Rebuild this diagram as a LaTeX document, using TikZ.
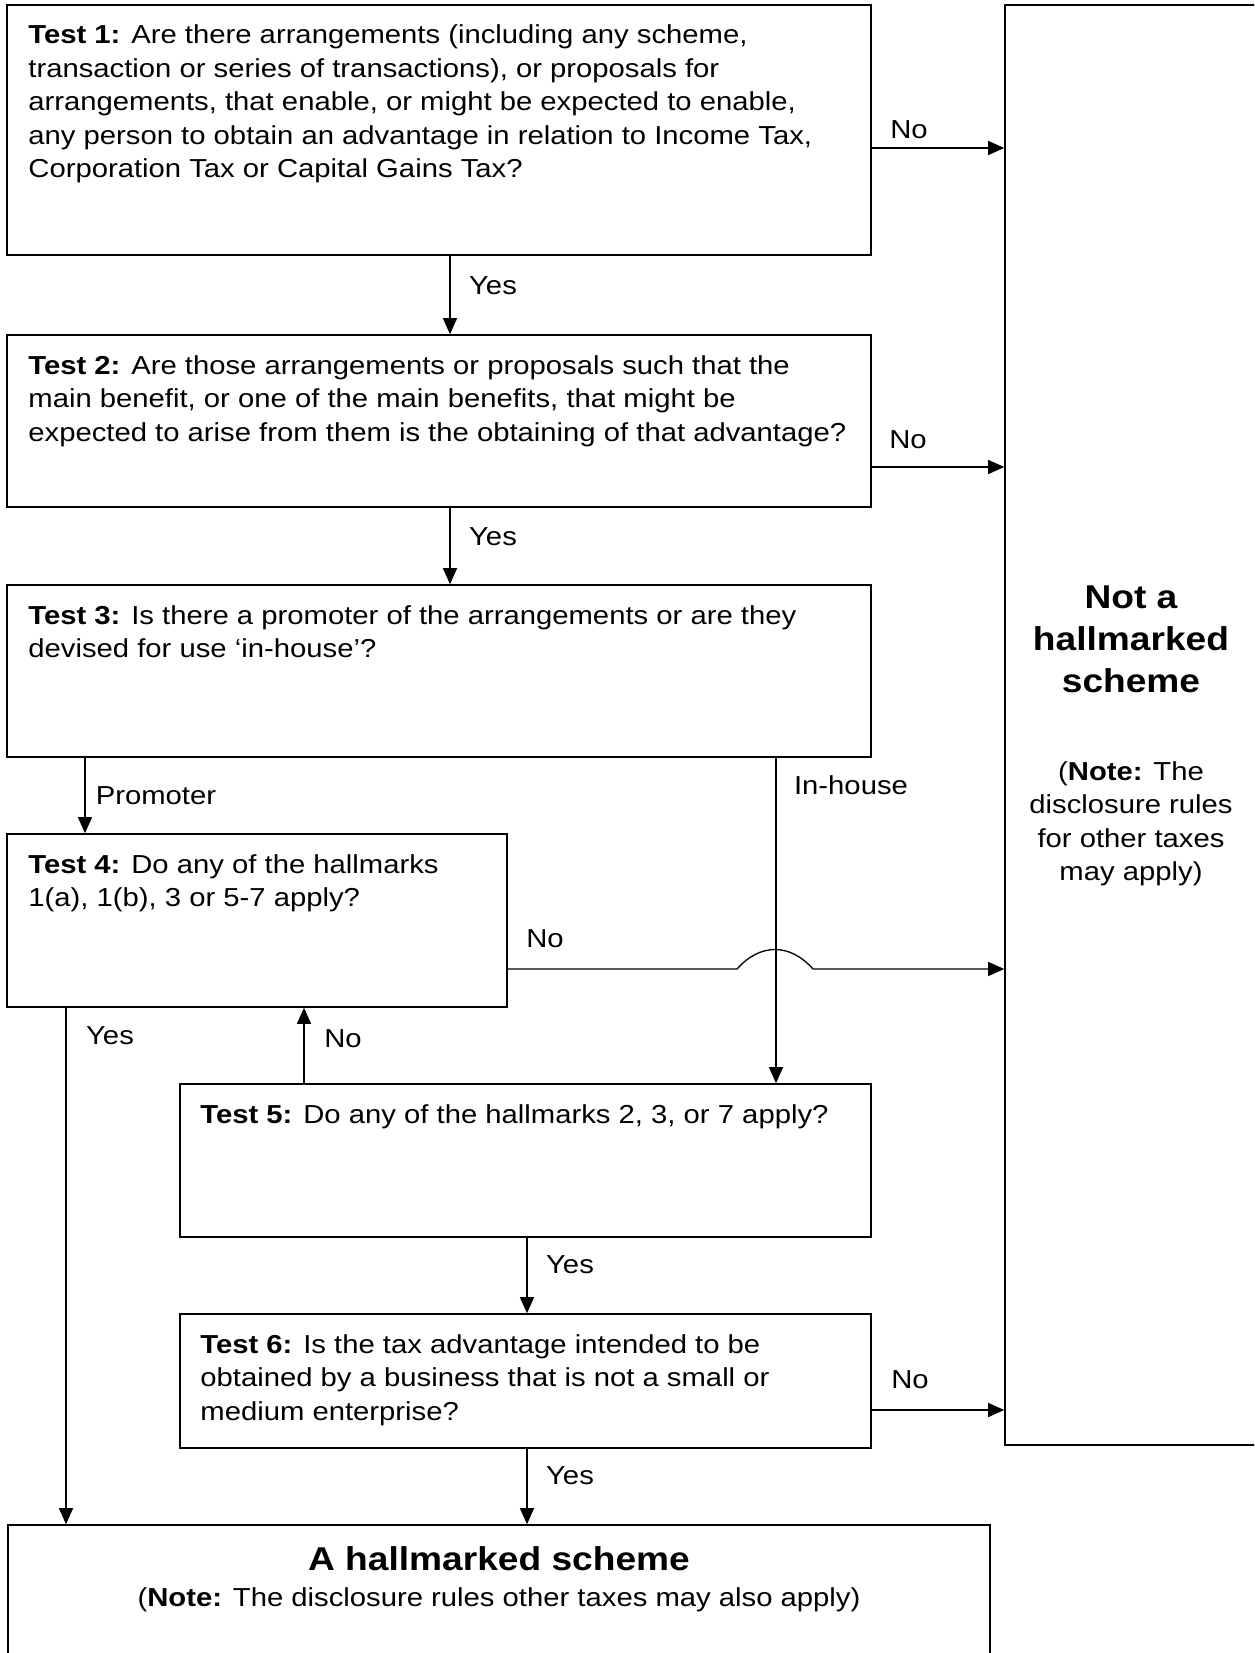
\documentclass[tikz,border=0pt]{standalone}
\usepackage{fontspec}
\setmainfont{Liberation Sans}[FakeStretch=1.125]
\usetikzlibrary{arrows.meta,fit}
\newcommand\lblfont{\fontsize{13}{16.75}\selectfont}
\newcommand\bigfont{\fontsize{16.5}{21}\selectfont\bfseries}
\tikzset{
  box/.style={draw, line width=0.8pt, inner sep=0pt},
  conn/.style={line width=0.65pt, -{Triangle[length=8pt,width=7pt]}},
  lbl/.style={anchor=base, inner sep=0pt, font=\lblfont},
  txt/.style={anchor=base west, inner sep=0pt},
  ctxt/.style={anchor=base, inner sep=0pt},
}
\begin{document}
\begin{tikzpicture}[x=0.5pt,y=-0.5pt]
\useasboundingbox (0,0) rectangle (1254,1653);
\clip (0,0) rectangle (1254,1653);
\fill[white] (0,0) rectangle (1254,1653);
% boxes
\node[box, fit={(7,5) (871,255)}] (t1) {};
\node[box, fit={(7,335) (871,507)}] (t2) {};
\node[box, fit={(7,585) (871,757)}] (t3) {};
\node[box, fit={(7,834) (507,1007)}] (t4) {};
\node[box, fit={(180,1084) (871,1237)}] (t5) {};
\node[box, fit={(180,1314) (871,1448)}] (t6) {};
\node[box, fit={(1005,5) (1262,1445)}] (nb) {};
\node[box, fit={(8,1525) (990,1665)}] (hs) {};
% texts
\node[txt] (t1x) at (28,44) {\parbox[t]{440pt}{\raggedright\lblfont\textbf{Test 1:} Are there arrangements (including any scheme,\\
transaction or series of transactions), or proposals for\\
arrangements, that enable, or might be expected to enable,\\
any person to obtain an advantage in relation to Income Tax,\\
Corporation Tax or Capital Gains Tax?}};
\node[txt] (t2x) at (28,374) {\parbox[t]{440pt}{\raggedright\lblfont\textbf{Test 2:} Are those arrangements or proposals such that the\\
main benefit, or one of the main benefits, that might be\\
expected to arise from them is the obtaining of that advantage?}};
\node[txt] (t3x) at (28,624) {\parbox[t]{440pt}{\raggedright\lblfont\textbf{Test 3:} Is there a promoter of the arrangements or are they\\
devised for use ‘in-house’?}};
\node[txt] (t4x) at (28,873) {\parbox[t]{240pt}{\raggedright\lblfont\textbf{Test 4:} Do any of the hallmarks\\
1(a), 1(b), 3 or 5-7 apply?}};
\node[txt] (t5x) at (200,1123) {\parbox[t]{340pt}{\raggedright\lblfont\textbf{Test 5:} Do any of the hallmarks 2, 3, or 7 apply?}};
\node[txt] (t6x) at (200,1353) {\parbox[t]{340pt}{\raggedright\lblfont\textbf{Test 6:} Is the tax advantage intended to be\\
obtained by a business that is not a small or\\
medium enterprise?}};
\node[ctxt] (nbt) at (1131,608) {\parbox[t]{200pt}{\centering\bigfont Not a\\ hallmarked\\ scheme}};
\node[ctxt] (nbn) at (1131,780) {\parbox[t]{200pt}{\centering\lblfont(\textbf{Note:} The\\ disclosure rules\\ for other taxes\\ may apply)}};
\node[ctxt] (hst) at (499,1570) {\bigfont A hallmarked scheme};
\node[ctxt] (hsn) at (499,1606) {\lblfont(\textbf{Note:} The disclosure rules other taxes may also apply)};
% helper coordinates
\coordinate (a1) at (450,0);
\coordinate (h1) at (0,148);
\coordinate (h2) at (0,467);
\coordinate (h4) at (0,969);
\coordinate (h6) at (0,1410);
\coordinate (pr) at (85,0);
\coordinate (ih) at (776,0);
\coordinate (y4) at (66,0);
\coordinate (n5) at (304,0);
\coordinate (v5) at (527,0);
\coordinate (j1) at (737,969);
\coordinate (j2) at (813,969);
% connectors
\draw[conn] (t1.south -| a1) -- (t2.north -| a1);
\draw[conn] (t2.south -| a1) -- (t3.north -| a1);
\draw[conn] (t1.east |- h1) -- (nb.west |- h1);
\draw[conn] (t2.east |- h2) -- (nb.west |- h2);
\draw[conn] (t6.east |- h6) -- (nb.west |- h6);
\draw[conn] (t3.south -| pr) -- (t4.north -| pr);
\draw[conn] (t3.south -| ih) -- (t5.north -| ih);
\draw[conn] (t4.south -| y4) -- (hs.north -| y4);
\draw[conn] (t5.north -| n5) -- (t4.south -| n5);
\draw[conn] (t5.south -| v5) -- (t6.north -| v5);
\draw[conn] (t6.south -| v5) -- (hs.north -| v5);
\draw[conn] (t4.east |- h4) -- (j1) .. controls (760,943) and (790,943) .. (j2) -- (nb.west |- h4);
% labels
\node[lbl] (l1) at (909,139) {No};
\node[lbl] (l2) at (493,294) {Yes};
\node[lbl] (l3) at (908,448) {No};
\node[lbl] (l4) at (493,545) {Yes};
\node[lbl] (l5) at (156,804) {Promoter};
\node[lbl] (l6) at (851,794) {In-house};
\node[lbl] (l7) at (545,947) {No};
\node[lbl] (l8) at (110,1044) {Yes};
\node[lbl] (l9) at (343,1047) {No};
\node[lbl] (l10) at (570,1273) {Yes};
\node[lbl] (l11) at (910,1388) {No};
\node[lbl] (l12) at (570,1484) {Yes};
\end{tikzpicture}
\end{document}
